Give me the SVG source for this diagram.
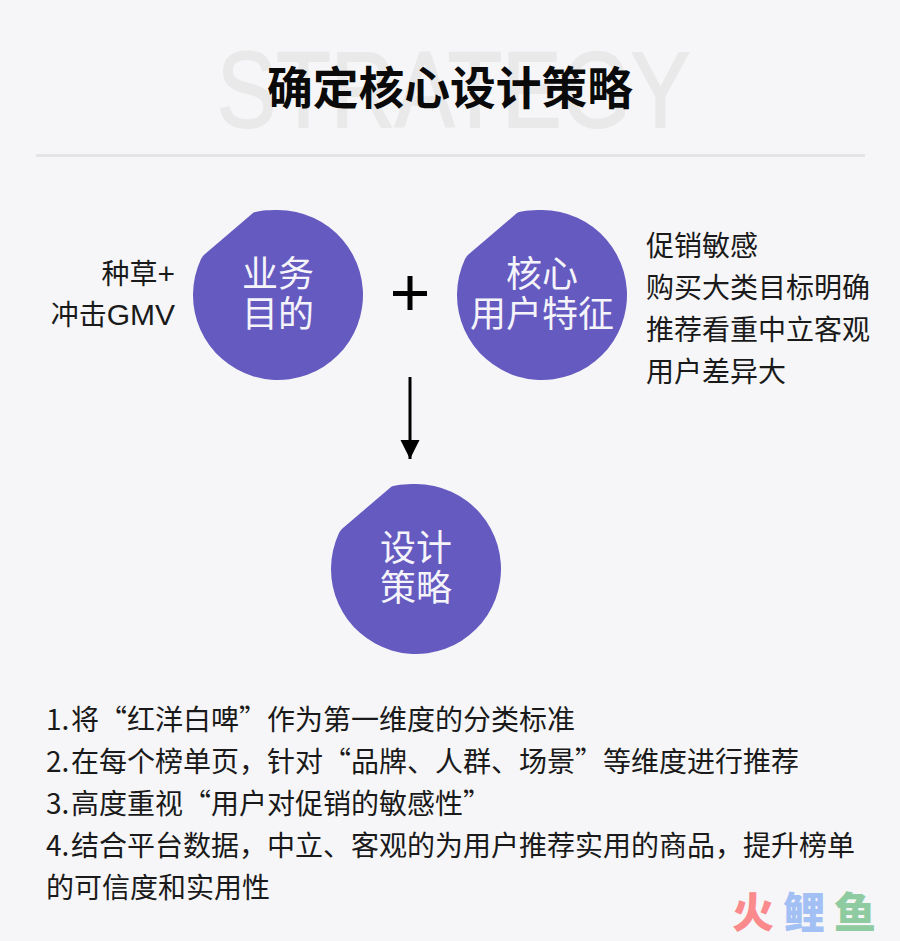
<svg xmlns="http://www.w3.org/2000/svg" width="900" height="941" viewBox="0 0 900 941">
<defs>
<marker id="ah" markerUnits="userSpaceOnUse" markerWidth="20" markerHeight="20" refX="19" refY="10" orient="auto"><path d="M0,0.5L19,10L0,19.5Z" fill="#000"/></marker>
<path id="blob" d="M-25,-82 C-22,-84 -12,-85 0,-85 A85,85 0 1 1 -77,-36 C-76,-38 -75,-39 -73,-41 Z"/>
</defs>
<style>
text{font-family:"Noto Sans CJK SC","Liberation Sans",sans-serif;fill:#1a1a1a}
.body{font-size:28px}
.latin{font-family:"Liberation Sans",sans-serif;font-size:30px}
.node{font-size:36px;fill:#f4f4fa;text-anchor:middle}
.blob{fill:#655ac0}
.wm{font-size:42px;font-weight:900}
</style>
<rect width="900" height="941" fill="#f6f6f8"/>
<text x="217" y="127" font-size="107" textLength="473" lengthAdjust="spacingAndGlyphs" stroke="#e9e9ea" stroke-width="2" style="font-family:'Liberation Sans',sans-serif;fill:#e9e9ea">STRATEGY</text>
<text x="267" y="105" style="font-size:45.75px;font-weight:700;fill:#0a0a0a">确定核心设计策略</text>
<rect x="36" y="154" width="829" height="3" fill="#e4e4e4"/>
<g id="connectors">
<path d="M410,377V459" stroke="#000" stroke-width="3" fill="none" marker-end="url(#ah)"/>
</g>
<g id="plus"><path d="M393,293.500H427M410,276V310" stroke="#000" stroke-width="5" fill="none"/></g>
<g id="node-business">
<use href="#blob" x="278" y="295" class="blob"/>
<text class="node" x="278" y="287">业务</text>
<text class="node" x="278" y="327">目的</text>
</g>
<g id="node-users">
<use href="#blob" x="542" y="295" class="blob"/>
<text class="node" x="542" y="287">核心</text>
<text class="node" x="542" y="327">用户特征</text>
</g>
<g id="node-strategy">
<use href="#blob" x="416" y="569" class="blob"/>
<text class="node" x="416" y="561">设计</text>
<text class="node" x="416" y="601">策略</text>
</g>
<g id="label-left">
<text class="body" x="175" y="284" text-anchor="end">种草<tspan class="latin">+</tspan></text>
<text class="body" x="175" y="325" text-anchor="end">冲击<tspan class="latin">GMV</tspan></text>
</g>
<g id="label-right">
<text class="body" x="646" y="256">促销敏感</text>
<text class="body" x="646" y="298">购买大类目标明确</text>
<text class="body" x="646" y="340">推荐看重中立客观</text>
<text class="body" x="646" y="382">用户差异大</text>
</g>
<g id="list">
<text class="body" x="46" y="730">1.<tspan x="71">将“红洋白啤”作为第一维度的分类标准</tspan></text>
<text class="body" x="46" y="772">2.<tspan x="71">在每个榜单页，针对“品牌、人群、场景”等维度进行推荐</tspan></text>
<text class="body" x="46" y="814">3.<tspan x="71">高度重视“用户对促销的敏感性”</tspan></text>
<text class="body" x="46" y="856">4.<tspan x="71">结合平台数据，中立、客观的为用户推荐实用的商品，提升榜单</tspan></text>
<text class="body" x="46" y="898">的可信度和实用性</text>
</g>
<g id="watermark">
<text class="wm" x="732" y="928" style="fill:#fb8a8c">火</text>
<text class="wm" x="783" y="928" style="fill:#a3c0f5">鲤</text>
<text class="wm" x="834" y="928" style="fill:#8fcba0">鱼</text>
</g>
</svg>
